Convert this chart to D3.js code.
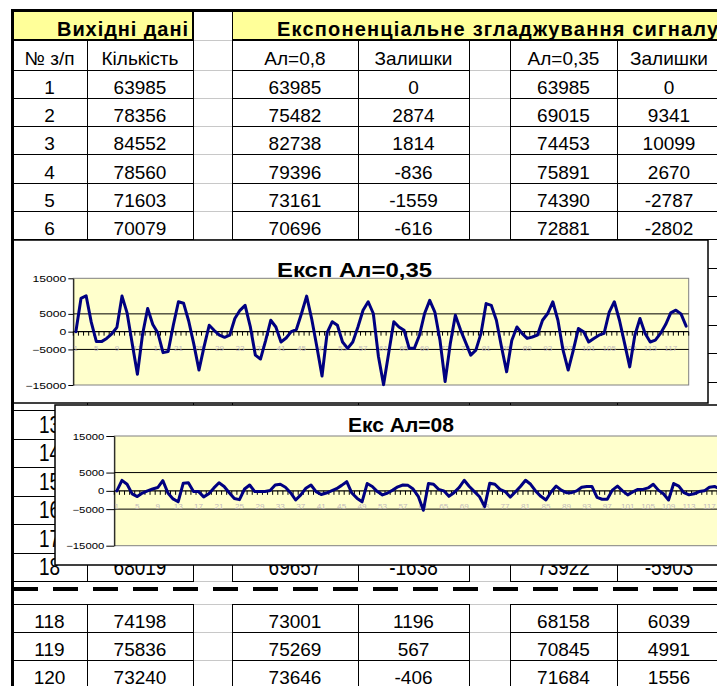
<!DOCTYPE html>
<html>
<head>
<meta charset="utf-8">
<script src="https://cdn.jsdelivr.net/npm/d3@7"></script>
<style>
  html, body { margin: 0; padding: 0; background: #fff; }
  svg { display: block; }
</style>
</head>
<body>
<svg id="sheet" width="717" height="686"></svg>
<script>
// ---- data ---------------------------------------------------------------
const periods = d3.range(1, 121);

// residuals of exponential smoothing, alpha = 0.35
const resid035 = [
  0, 9341, 10099, 2670, -2787, -2802, -1900, -600, 1200, 10000,
  5200, -3500, -12000, -800, 6500, 2000, -400, -5903, -5600, 1800,
  8400, 8000, 3000, -3500, -10800, -4200, 1800, 300, -1000, -1600,
  -1000, 3700, 6000, 7400, 1500, -6600, -7700, -2500, 3200, 1300,
  -2900, -1800, 0, 600, 5100, 10000, 3500, -4300, -12500, -300,
  2800, 1800, -2900, -4700, -2900, 1300, 6000, 8400, 5100, -7000,
  -14900, -6000, 2800, 1300, 400, -4700, -4700, -1000, 5100, 8800,
  5500, -2400, -14000, -3500, 4600, 500, -3000, -6600, -5200, -500,
  7900, 7400, 3200, -4300, -11300, -2500, 1300, -500, -1900, -1500,
  -1000, 3200, 5100, 8400, 3200, -5200, -10800, -5200, 900, 0,
  -2900, -1900, -1000, -500, 5500, 8400, 3200, -3300, -9900, -1000,
  3700, -500, -2900, -2400, -500, 2000, 5300, 6039, 4991, 1556
];

// residuals of exponential smoothing, alpha = 0.8
const resid08 = [
  0, 2874, 1814, -836, -1559, -616, 0, 500, 900, 2800,
  -600, -2200, -3000, 2100, 2200, -200, -200, -1638, -800, 800,
  2200, 1200, -500, -2100, -2400, 500, 1600, -200, -200, -200,
  100, 1600, 1800, 1000, -500, -2500, -1100, 700, 1600, -200,
  -1000, -600, 0, 600, 1500, 2500, -600, -2000, -3000, 2000,
  1200, -200, -1100, -600, 200, 1100, 1600, 1500, 500, -1500,
  -5300, 2000, 1800, 400, 0, -1500, -500, 900, 2900, 1200,
  -200, -1600, -4300, 2100, 1800, 400, -200, -1700, -300, 1200,
  2900, 1800, -100, -1500, -2500, -300, 1300, 200, -500, -500,
  0, 1000, 1200, 1200, -1800, -2300, -2300, 200, 1300, 0,
  -1100, -300, 400, 400, 800, 1800, 200, -800, -2500, 2000,
  1300, -500, -1100, -800, -200, 0, 1000, 1196, 567, -406
];

const yTicks = [15000, 5000, 0, -5000, -15000];
const gridValues = [5000, -5000];
const xLabelPeriods = periods.filter(p => (p - 1) % 4 === 0);

// rows of the sheet that carry values
const rowNo     = [1, 2, 3, 4, 5, 6, 18, 118, 119, 120];
const qty       = [63985, 78356, 84552, 78560, 71603, 70079, 68019, 74198, 75836, 73240];
const smooth08  = [63985, 75482, 82738, 79396, 73161, 70696, 69657, 73001, 75269, 73646];
const smooth035 = [63985, 69015, 74453, 75891, 74390, 72881, 73922, 68158, 70845, 71684];
// rows whose number peeks out beside the lower chart
const partialRowNo = d3.range(13, 18);

const headTitleLeft  = "Вихідні дані";
const headTitleRight = "Експоненціальне згладжування сигналу";
const colHeads = ["№ з/п", "Кількість", "Ал=0,8", "Залишки", "Ал=0,35", "Залишки"];

// ---- layout -------------------------------------------------------------
const FONT = '"Liberation Sans", Arial, Helvetica, sans-serif';
const svg = d3.select("#sheet").style("font-family", FONT);

// column edges: №, qty, gap, s08, r08, gap, s035, r035
const colX = [12, 87, 193, 232, 358, 469, 510, 617, 721];
const dataCols = [0, 1, 3, 4, 6, 7];
const gapCols = [2, 5];

function rowBox(n) {
  if (n >= 118) { const t = 604 + (n - 118) * 28; return [t, t + 28]; }
  if (n <= 6)   { const t = 70 + (n - 1) * 28.25; return [t, t + 28.25]; }
  const t = 239.5 + (n - 7) * 28.5; return [t, t + 28.5];
}

const table = svg.append("g");

// header band
table.append("rect").attr("x", 12).attr("y", 10).attr("width", 181).attr("height", 30).attr("fill", "#ffff99");
table.append("rect").attr("x", 232).attr("y", 10).attr("width", 500).attr("height", 30).attr("fill", "#ffff99");

table.append("text").attr("x", 57).attr("y", 35.5)
  .attr("font-size", 20).attr("font-weight", "bold")
  .attr("textLength", 131).attr("lengthAdjust", "spacing")
  .text(headTitleLeft);
table.append("text").attr("x", 277).attr("y", 35.5)
  .attr("font-size", 20).attr("font-weight", "bold")
  .attr("textLength", 441).attr("lengthAdjust", "spacing")
  .text(headTitleRight);

// column heads
dataCols.forEach((c, i) => {
  table.append("text")
    .attr("x", (colX[c] + colX[c + 1]) / 2).attr("y", 65)
    .attr("text-anchor", "middle").attr("font-size", 19)
    .text(colHeads[i]);
});

// grid lines of the gap columns
const allRows = [...d3.range(1, 19), 118, 119, 120];
const boundaries = [40, 70];
allRows.forEach(n => { boundaries.push(rowBox(n)[1]); });
boundaries.push(604);
const lines = table.append("g").attr("shape-rendering", "crispEdges");
gapCols.forEach(c => {
  boundaries.forEach(b => {
    lines.append("line").attr("x1", colX[c]).attr("x2", colX[c + 1])
      .attr("y1", b).attr("y2", b).attr("stroke", "#c8c8c8");
  });
});

// cell borders
function cellRow(top, bottom) {
  [[0, 2], [3, 5], [6, 8]].forEach(([a, b]) => {
    lines.append("line").attr("x1", colX[a]).attr("x2", colX[b]).attr("y1", top).attr("y2", top).attr("stroke", "#000");
    lines.append("line").attr("x1", colX[a]).attr("x2", colX[b]).attr("y1", bottom).attr("y2", bottom).attr("stroke", "#000");
  });
  [1, 2, 3, 4, 5, 6, 7, 8].forEach(c => {
    lines.append("line").attr("x1", colX[c]).attr("x2", colX[c]).attr("y1", top).attr("y2", bottom).attr("stroke", "#000");
  });
}
cellRow(40, 70);
allRows.forEach(n => { const [t, b] = rowBox(n); cellRow(t, b); });

// header borders
lines.append("line").attr("x1", 12).attr("x2", 193).attr("y1", 40).attr("y2", 40).attr("stroke", "#000").attr("stroke-width", 2);
lines.append("line").attr("x1", 232).attr("x2", 717).attr("y1", 40).attr("y2", 40).attr("stroke", "#000").attr("stroke-width", 2);
lines.append("line").attr("x1", 193).attr("x2", 193).attr("y1", 10).attr("y2", 40).attr("stroke", "#000").attr("stroke-width", 2);
lines.append("line").attr("x1", 232).attr("x2", 232).attr("y1", 10).attr("y2", 40).attr("stroke", "#000");

// cell values; the middle block of rows is drawn a little taller
function cellText(c, n, v) {
  const [, b] = rowBox(n);
  const mid = n >= 7 && n < 118;
  const base = mid ? b - 6.5 : b - 4.5;
  table.append("text")
    .attr("transform", `translate(${(colX[c] + colX[c + 1]) / 2},${base}) scale(1,${mid ? 1.22 : 1})`)
    .attr("text-anchor", "middle").attr("font-size", 19)
    .text(v);
}
rowNo.forEach((n, i) => {
  cellText(0, n, n);
  cellText(1, n, qty[i]);
  cellText(3, n, smooth08[i]);
  cellText(4, n, resid08[n - 1]);
  cellText(6, n, smooth035[i]);
  cellText(7, n, resid035[n - 1]);
});
partialRowNo.forEach(n => cellText(0, n, n));

// break marker between row 18 and row 118
table.append("line").attr("x1", 13).attr("x2", 717).attr("y1", 589).attr("y2", 589)
  .attr("stroke", "#000").attr("stroke-width", 4).attr("stroke-dasharray", "25,15");

// ---- charts -------------------------------------------------------------
const charts = [
  { title: "Експ Ал=0,35", series: resid035,
    box: { x: 12, y: 240, w: 696, h: 163 },
    plot: { x: 73.3, y: 278.3, w: 615.4, h: 106.7 },
    titleX: 354.5, titleY: 277, titleLen: 155,
    tickLen: 5, yLabelScale: 1.35, xLabelDy: 19.5 },
  { title: "Екс Ал=08", series: resid08,
    box: { x: 55, y: 405, w: 700, h: 160 },
    plot: { x: 114.3, y: 436, w: 613, h: 109.7 },
    titleX: 401, titleY: 431.5, titleLen: 106,
    tickLen: 8, yLabelScale: 1.26, xLabelDy: 18 }
];

function drawChart(cfg) {
  const g = svg.append("g");
  g.append("rect")
    .attr("x", cfg.box.x).attr("y", cfg.box.y)
    .attr("width", cfg.box.w).attr("height", cfg.box.h)
    .attr("fill", "#fff").attr("stroke", "#000").attr("stroke-width", 1.5);

  const x = d3.scaleBand().domain(periods)
    .range([cfg.plot.x, cfg.plot.x + cfg.plot.w]).padding(0);
  const y = d3.scaleLinear().domain([-15000, 15000])
    .range([cfg.plot.y + cfg.plot.h, cfg.plot.y]);
  const bw = x.bandwidth();

  g.append("rect")
    .attr("x", cfg.plot.x).attr("y", cfg.plot.y)
    .attr("width", cfg.plot.w).attr("height", cfg.plot.h)
    .attr("fill", "#ffffcc").attr("stroke", "#808080").attr("stroke-width", 1);

  g.selectAll(".grid").data(gridValues).join("line")
    .attr("x1", cfg.plot.x).attr("x2", cfg.plot.x + cfg.plot.w)
    .attr("y1", d => y(d)).attr("y2", d => y(d))
    .attr("stroke", "#000").attr("stroke-width", 1);

  // value axis
  const ya = g.append("g").attr("transform", `translate(${cfg.plot.x},0)`)
    .call(d3.axisLeft(y).tickValues(yTicks).tickSize(cfg.tickLen).tickSizeOuter(0)
      .tickPadding(2).tickFormat(d3.format("d")));
  ya.select(".domain").attr("stroke", "#000");
  ya.selectAll(".tick line").attr("stroke", "#000");
  ya.selectAll(".tick text")
    .attr("x", null).attr("dy", "0.34em")
    .attr("transform", `translate(${-(cfg.tickLen + 2)},0) scale(${cfg.yLabelScale},1)`)
    .attr("font-family", FONT).attr("font-size", 9).attr("fill", "#000");

  // category axis on the zero line
  const y0 = y(0);
  g.append("line").attr("x1", cfg.plot.x).attr("x2", cfg.plot.x + cfg.plot.w)
    .attr("y1", y0).attr("y2", y0).attr("stroke", "#000").attr("stroke-width", 1.2);
  const edges = periods.map(p => x(p)).concat([x.range()[1]]);
  g.selectAll(".cattick").data(edges).join("line")
    .attr("x1", d => d).attr("x2", d => d)
    .attr("y1", y0).attr("y2", y0 + 4)
    .attr("stroke", "#000").attr("stroke-width", 1);
  g.selectAll(".catlabel").data(xLabelPeriods).join("text")
    .attr("transform", d => `translate(${x(d) + bw / 2},${y0 + cfg.xLabelDy}) scale(1.25,1)`)
    .attr("text-anchor", "middle").attr("font-size", 6.5).attr("fill", "#c4bcbc")
    .text(d => d);

  // series line
  const line = d3.line()
    .x((d, i) => x(periods[i]) + bw / 2)
    .y(d => y(d));
  g.append("path").datum(cfg.series)
    .attr("d", line).attr("fill", "none")
    .attr("stroke", "#000080").attr("stroke-width", 3)
    .attr("stroke-linejoin", "round").attr("stroke-linecap", "round");

  g.append("text")
    .attr("x", cfg.titleX - cfg.titleLen / 2).attr("y", cfg.titleY)
    .attr("font-size", 20).attr("font-weight", "bold")
    .attr("textLength", cfg.titleLen).attr("lengthAdjust", "spacingAndGlyphs")
    .text(cfg.title);
}
charts.forEach(drawChart);

// outer sheet borders
svg.append("line").attr("x1", 12.5).attr("x2", 12.5).attr("y1", 9).attr("y2", 686)
  .attr("stroke", "#000").attr("stroke-width", 3);
svg.append("line").attr("x1", 11).attr("x2", 717).attr("y1", 10.5).attr("y2", 10.5)
  .attr("stroke", "#000").attr("stroke-width", 3);
</script>
</body>
</html>
